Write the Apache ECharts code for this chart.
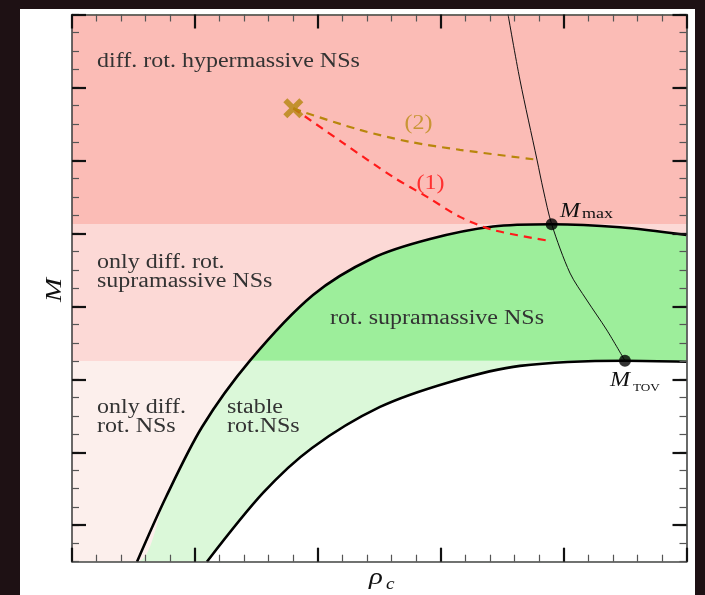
<!DOCTYPE html>
<html><head><meta charset="utf-8">
<script src="https://cdn.jsdelivr.net/npm/echarts@6/dist/echarts.min.js"></script>
<style>html,body{margin:0;padding:0;background:#1e1114}#c{width:705px;height:595px}</style>
</head><body><div id="c"></div>
<script>
// axis ranges & ticks
const xMin = 0, xMax = 5, xInterval = 1;
const yMin = 0, yMax = 7.5, yMinorInterval = 0.25;
const yMajorTicks = [0.5, 1.5, 2.5, 3.5, 4.5, 5.5, 6.5, 7.5];

// upper boundary curve (maximum mass of uniformly rotating stars)
const upperX = [0.529, 0.765, 1.058, 1.448, 1.961, 2.449, 2.913, 3.426, 3.903, 4.459, 5.0];
const upperY = [0.0, 0.887, 1.846, 2.755, 3.655, 4.163, 4.423, 4.594, 4.625, 4.583, 4.478];
// lower boundary curve (non-rotating sequence)
const lowerX = [1.098, 1.554, 1.953, 2.506, 3.076, 3.645, 4.499, 5.0];
const lowerY = [0.0, 0.942, 1.559, 2.121, 2.464, 2.684, 2.755, 2.741];
// thin line connecting M_max and M_TOV
const seqX = [3.548, 3.645, 3.784, 3.835, 3.903, 4.052, 4.188, 4.351, 4.499];
const seqY = [7.5, 6.601, 5.505, 5.095, 4.625, 3.956, 3.587, 3.176, 2.755];
// evolution path (1)
const path1X = [1.801, 2.205, 2.612, 2.889, 3.157, 3.426, 3.889];
const path1Y = [6.215, 5.740, 5.274, 5.000, 4.726, 4.547, 4.396];
// evolution path (2)
const path2X = [1.801, 1.880, 2.343, 2.750, 3.157, 3.792];
const path2Y = [6.215, 6.165, 5.918, 5.754, 5.645, 5.508];
// special points
const startPoint = [1.801, 6.215];
const mMax = [3.903, 4.625];
const mTov = [4.499, 2.755];

// colours
const pinkLow = '#fcefec', pinkMid = '#fcd9d6', pinkHigh = '#fbbcb6';
const greenLow = '#dbf8d9', greenHigh = '#9dee9b';

const pair = (xs, ys) => xs.map((x, i) => [x, ys[i]]);
const upper = pair(upperX, upperY);
const lower = pair(lowerX, lowerY);
const aboveUpper = [[xMin, yMin]].concat(upper);

const FONT = '"Liberation Serif", "Times New Roman", serif';
const SX = 1.2;
const SM = 0.3;

const frameLine = { show: true, onZero: false, lineStyle: { color: '#444', width: 1.6 } };
function xAx(pos) {
  return { type: 'value', position: pos, min: xMin, max: xMax, interval: xInterval, z: 20,
    axisLine: frameLine,
    axisTick: { show: true, inside: true, length: 14, lineStyle: { color: '#111', width: 2.2 } },
    minorTick: { show: true, splitNumber: 5, length: 7, lineStyle: { color: '#555', width: 1.2 } },
    axisLabel: { show: false }, splitLine: { show: false }, minorSplitLine: { show: false } };
}
function yMinorAx(pos) {
  return { type: 'value', position: pos, min: yMin, max: yMax, interval: yMinorInterval, z: 20,
    axisLine: frameLine,
    axisTick: { show: true, inside: true, length: 7, lineStyle: { color: '#555', width: 1.2 } },
    axisLabel: { show: false }, splitLine: { show: false } };
}
function yMajorAx(pos) {
  return { type: 'value', position: pos, min: yMin, max: yMax, z: 21,
    axisLine: { show: false, onZero: false },
    axisTick: { show: true, inside: true, length: 14, customValues: yMajorTicks, lineStyle: { color: '#111', width: 2.2 } },
    axisLabel: { show: false, customValues: yMajorTicks }, splitLine: { show: false } };
}

function txt(x, y, text, size, opts) {
  opts = opts || {};
  return { type: 'text', x: x, y: y, scaleX: opts.scaleX || SX, rotation: opts.rotation || 0, z: 100,
    style: { text: text, font: (opts.italic ? 'italic ' : '') + size + 'px ' + FONT,
      fill: opts.color || '#333', align: opts.align || 'left', verticalAlign: 'middle',
      textAlign: opts.align || 'left', textVerticalAlign: 'middle', lineHeight: opts.lineHeight || size } };
}

const chart = echarts.init(document.getElementById('c'), null, { renderer: 'canvas' });
const option = {
  animation: false,
  backgroundColor: '#1e1114',
  grid: { left: 72, right: 18.5, top: 14.5, bottom: 33.3, containLabel: false },
  xAxis: [xAx('bottom'), xAx('top')],
  yAxis: [yMinorAx('left'), yMajorAx('left'), yMinorAx('right'), yMajorAx('right')],
  graphic: [
    { type: 'rect', z: -100, shape: { x: 20, y: 9, width: 675, height: 586 }, style: { fill: '#ffffff' } },
    txt(97, 62, 'diff. rot. hypermassive NSs', 20),
    txt(97, 272.5, 'only diff. rot.\nsupramassive NSs', 20, { lineHeight: 19 }),
    txt(330, 319, 'rot. supramassive NSs', 20),
    txt(97, 417.5, 'only diff.\nrot. NSs', 20, { lineHeight: 19 }),
    txt(227, 417.5, 'stable\nrot.NSs', 20, { lineHeight: 19 }),
    txt(418.5, 124, '(2)', 20, { align: 'center', color: '#c99535' }),
    txt(430.5, 184, '(1)', 20, { align: 'center', color: '#ff3030' }),
    txt(560, 211.5, 'M', 20, { italic: true, color: '#111' }),
    txt(582, 214.5, 'max', 15, { color: '#111' }),
    txt(610, 381, 'M', 20, { italic: true, color: '#111' }),
    txt(633, 388, 'TOV', 11, { color: '#111' }),
    txt(55, 290, 'M', 24, { italic: true, color: '#111', align: 'center', rotation: Math.PI / 2 }),
    txt(376, 578, 'ρ', 24, { italic: true, color: '#111', align: 'center' }),
    txt(386, 585, 'c', 16, { italic: true, color: '#111' })
  ],
  series: [
    // green bands (visible only inside the upper curve)
    { type: 'line', data: [], silent: true, z: 1,
      markArea: { silent: true, data: [
        [{ yAxis: yMin, itemStyle: { color: greenLow } }, { yAxis: mTov[1] }],
        [{ yAxis: mTov[1], itemStyle: { color: greenHigh } }, { yAxis: yMax }]
      ] } },
    // pink region: everything above/left of the upper curve
    { id: 'pink', type: 'line', data: aboveUpper, smooth: SM, symbol: 'none', silent: true, z: 2,
      lineStyle: { width: 0, opacity: 0 }, areaStyle: { color: pinkHigh, opacity: 1, origin: 'end' } },
    // white region under the lower curve
    { type: 'line', data: lower, smooth: SM, symbol: 'none', silent: true, z: 3,
      lineStyle: { width: 0, opacity: 0 }, areaStyle: { color: '#ffffff', opacity: 1, origin: 'start' } },
    { type: 'line', data: upper, smooth: SM, symbol: 'none', z: 5, lineStyle: { color: '#000', width: 2.6 } },
    { type: 'line', data: lower, smooth: SM, symbol: 'none', z: 5, lineStyle: { color: '#000', width: 2.6 } },
    { type: 'line', data: pair(seqX, seqY), smooth: SM, symbol: 'none', z: 5, lineStyle: { color: '#111', width: 1 } },
    { type: 'line', data: pair(path1X, path1Y), smooth: SM, symbol: 'none', z: 6,
      lineStyle: { color: '#ff1a1a', width: 2.2, type: [8, 6] } },
    { type: 'line', data: pair(path2X, path2Y), smooth: SM, symbol: 'none', z: 6,
      lineStyle: { color: '#b8860b', width: 2.2, type: [8, 6] } },
    { type: 'scatter', data: [mMax, mTov], symbol: 'circle', symbolSize: 12, z: 7,
      itemStyle: { color: '#000' } },
    { type: 'scatter', data: [startPoint], z: 8, symbolSize: 20,
      symbol: 'path://M2,0 L5,3 L8,0 L10,2 L7,5 L10,8 L8,10 L5,7 L2,10 L0,8 L3,5 L0,2 Z',
      itemStyle: { color: '#b5860e' } }
  ]
};
chart.setOption(option);

// band gradient for the pink region, in pixel space of the grid
const py = v => chart.convertToPixel({ yAxisIndex: 0 }, v);
const pTop = py(yMax), pBot = py(yMin), pMax = py(mMax[1]), pTov = py(mTov[1]);
const f = p => (p - pTop) / (pBot - pTop);
const grad = new echarts.graphic.LinearGradient(0, pTop, 0, pBot, [
  { offset: 0, color: pinkHigh }, { offset: f(pMax), color: pinkHigh },
  { offset: f(pMax), color: pinkMid }, { offset: f(pTov), color: pinkMid },
  { offset: f(pTov), color: pinkLow }, { offset: 1, color: pinkLow }
], true);
chart.setOption({ series: [{ id: 'pink', areaStyle: { color: grad } }] });
</script></body></html>
